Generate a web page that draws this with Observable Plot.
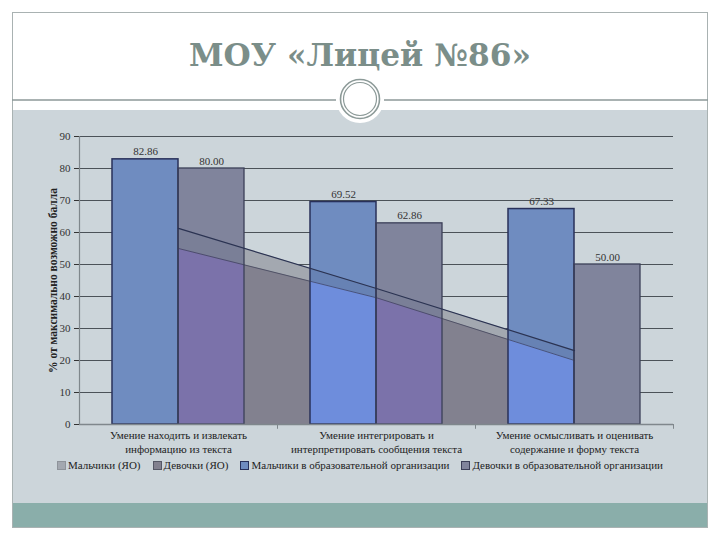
<!DOCTYPE html>
<html>
<head>
<meta charset="utf-8">
<script src="https://cdn.jsdelivr.net/npm/d3@7"></script>
<script src="https://cdn.jsdelivr.net/npm/@observablehq/plot@0.6"></script>
<style>
  html, body { margin: 0; padding: 0; background: #ffffff; }
  #page { position: relative; width: 720px; height: 540px; overflow: hidden; background: #ffffff; }
  #decor { position: absolute; left: 0; top: 0; }
  #chart { position: absolute; left: 0; top: 110px; }
  #legend { position: absolute; left: 0; top: 459px; width: 720px; display: flex; justify-content: center;
            gap: 12px; font-family: "Liberation Serif", "DejaVu Serif", serif; font-size: 11px; color: #222; }
  #legend .item { display: flex; align-items: center; gap: 2px; white-space: nowrap; }
  #legend .sw { width: 7px; height: 7px; border: 1px solid; display: inline-block; }
</style>
</head>
<body>
<div id="page">
  <svg id="decor" width="720" height="540">
    <rect x="12" y="110" width="696" height="393" fill="#ccd5da"></rect>
    <rect x="12" y="503" width="696" height="25" fill="#8aaeaa"></rect>
    <rect x="12.5" y="12.5" width="695" height="515" fill="none" stroke="#a9b2b2" stroke-width="1"></rect>
    <line x1="12" x2="336" y1="100" y2="100" stroke="#8c9898" stroke-width="1.5"></line>
    <line x1="384" x2="708" y1="100" y2="100" stroke="#8c9898" stroke-width="1.5"></line>
    <circle cx="360" cy="99" r="24" fill="#ffffff"></circle>
    <circle cx="360" cy="99" r="19.5" fill="none" stroke="#8c9a98" stroke-width="1.6"></circle>
    <circle cx="360" cy="99" r="16.5" fill="none" stroke="#8c9a98" stroke-width="1.2"></circle>
    <text x="360" y="66" text-anchor="middle" font-family="DejaVu Serif" font-weight="bold" font-size="31"
          fill="#7b8e89" textLength="342" lengthAdjust="spacingAndGlyphs">МОУ «Лицей №86»</text>
  </svg>
  <div id="chart"></div>
  <div id="legend"></div>
</div>
<script>
// ---- data ----
const categories = [
  "Умение находить и извлекать\nинформацию из текста",
  "Умение интегрировать и\nинтерпретировать сообщения текста",
  "Умение осмысливать и оценивать\nсодержание и форму текста"
];
const seriesNames = [
  "Мальчики (ЯО)",
  "Девочки (ЯО)",
  "Мальчики в образовательной организации",
  "Девочки в образовательной организации"
];
const boysYO  = [61.3, 42.5, 23.1];
const girlsYO = [55.0, 39.6, 20.0];
const boysOO  = [82.86, 69.52, 67.33];
const girlsOO = [80.00, 62.86, 50.00];
const yTicks = [0, 10, 20, 30, 40, 50, 60, 70, 80, 90];
const yLabel = "% от максимально возможно балла";

// ---- styling ----
const C = {
  boysYO: "#a3a8b0", girlsYO: "#82818f",
  boysOO: "#6f8cc0", girlsOO: "#80849c",
  boysOOStroke: "#28305a", girlsOOStroke: "#3b3f58",
  tintBoys: "#6e8ddc", tintGirls: "#7b72aa"
};
const FONT = '"Liberation Serif", "DejaVu Serif", serif';

const rows = categories.map((c, i) => ({
  i, c, boysYO: boysYO[i], girlsYO: girlsYO[i], boysOO: boysOO[i], girlsOO: girlsOO[i]
}));
const bw = 1 / 3;

const chart = Plot.plot({
  width: 720,
  height: 350,
  marginLeft: 79,
  marginRight: 47,
  marginTop: 26,
  marginBottom: 36,
  style: { background: "transparent", fontFamily: FONT, fontSize: "11px", color: "#333", overflow: "visible" },
  x: { type: "linear", domain: [-0.5, 2.5], axis: null },
  y: { domain: [0, 90], ticks: yTicks, tickSize: 5, tickPadding: 4, label: null, tickFormat: d => String(d) },
  marks: [
    Plot.ruleY(yTicks.filter(d => d > 0), { stroke: "#4b5258", strokeWidth: 1 }),
    // areas (behind)
    Plot.areaY(rows, { x: "i", y: "boysYO", fill: C.boysYO }),
    Plot.areaY(rows, { x: "i", y: "girlsYO", fill: C.girlsYO }),
    // bars
    Plot.rectY(rows, { x1: d => d.i - bw, x2: d => d.i, y: "boysOO", fill: C.boysOO, ariaDescription: "bars-boys" }),
    Plot.rectY(rows, { x1: d => d.i, x2: d => d.i + bw, y: "girlsOO", fill: C.girlsOO, ariaDescription: "bars-girls" }),
    // overlays clipped to bars
    Plot.areaY(rows, { x: "i", y: "boysYO", fill: "#2a3350", fillOpacity: 0.1, ariaDescription: "band-boys" }),
    Plot.areaY(rows, { x: "i", y: "boysYO", fill: "#2a3350", fillOpacity: 0.06, ariaDescription: "band-girls" }),
    Plot.areaY(rows, { x: "i", y: "girlsYO", fill: C.tintBoys, ariaDescription: "tint-boys" }),
    Plot.areaY(rows, { x: "i", y: "girlsYO", fill: C.tintGirls, ariaDescription: "tint-girls" }),
    // bar outlines
    Plot.rectY(rows, { x1: d => d.i - bw, x2: d => d.i, y: "boysOO", fill: "none", stroke: C.boysOOStroke, strokeWidth: 1.5 }),
    Plot.rectY(rows, { x1: d => d.i, x2: d => d.i + bw, y: "girlsOO", fill: "none", stroke: C.girlsOOStroke, strokeWidth: 1.3 }),
    // area lines
    Plot.lineY(rows, { x: "i", y: "boysYO", stroke: "#2b3352", strokeWidth: 1.2 }),
    Plot.lineY(rows, { x: "i", y: "girlsYO", stroke: "#3a3d55", strokeWidth: 0.9, strokeOpacity: 0.8 }),
    // axes lines
    Plot.ruleX([-0.5], { y1: 0, y2: 90, stroke: "#7f878c", strokeWidth: 1.2 }),
    Plot.ruleY([0], { stroke: "#7f878c", strokeWidth: 1.5 }),
    Plot.ruleX([0.5, 1.5, 2.5], { y1: 0, y2: -1.5, stroke: "#7f878c", strokeWidth: 1 }),
    // data labels
    Plot.text(rows, { x: d => d.i - bw / 2, y: "boysOO", text: d => d.boysOO.toFixed(2), dy: -4, lineAnchor: "bottom", fill: "#333", fontSize: 11, fontFamily: FONT }),
    Plot.text(rows, { x: d => d.i + bw / 2, y: "girlsOO", text: d => d.girlsOO.toFixed(2), dy: -4, lineAnchor: "bottom", fill: "#333", fontSize: 11, fontFamily: FONT }),
    // category labels
    Plot.text(rows, { x: "i", y: 0, text: "c", lineAnchor: "top", dy: 5, lineHeight: 1.27, fill: "#222", fontSize: 11, fontFamily: FONT }),
    // y label
    Plot.text([yLabel], { frameAnchor: "left", textAnchor: "middle", rotate: -90, dx: -26, fill: "#222", fontSize: 11.5, fontWeight: "bold", fontFamily: FONT })
  ]
});

// clip overlays to bar shapes
function parseTranslate(t) {
  if (!t) return [0, 0];
  const m = /translate\(\s*([-\d.e]+)[ ,]*([-\d.e]+)?\s*\)/.exec(t);
  return m ? [+m[1], +(m[2] || 0)] : [0, 0];
}
function findGroup(svg, key) {
  return svg.querySelector(`[aria-description="${key}"]`) || svg.querySelector(`[aria-label="${key}"]`);
}
function clipTo(svg, target, sources, id) {
  const ns = "http://www.w3.org/2000/svg";
  const tg = findGroup(svg, target);
  if (!tg) return;
  let defs = svg.querySelector("defs");
  if (!defs) { defs = document.createElementNS(ns, "defs"); svg.insertBefore(defs, svg.firstChild); }
  const cp = document.createElementNS(ns, "clipPath");
  cp.setAttribute("id", id);
  defs.appendChild(cp);
  const [tx, ty] = parseTranslate(tg.getAttribute("transform"));
  for (const s of sources) {
    const g = findGroup(svg, s);
    if (!g) continue;
    const [sx, sy] = parseTranslate(g.getAttribute("transform"));
    for (const r of g.querySelectorAll("rect")) {
      const c = r.cloneNode(false);
      c.setAttribute("transform", `translate(${sx - tx},${sy - ty})`);
      cp.appendChild(c);
    }
  }
  tg.setAttribute("clip-path", `url(#${id})`);
}
clipTo(chart, "band-boys", ["bars-boys"], "cbb");
clipTo(chart, "band-girls", ["bars-girls"], "cbg");
clipTo(chart, "tint-boys", ["bars-boys"], "ctb");
clipTo(chart, "tint-girls", ["bars-girls"], "ctg");

document.getElementById("chart").appendChild(chart);

// legend
const legendColors = [
  [C.boysYO, "#8e939a"], [C.girlsYO, "#555866"], [C.boysOO, C.boysOOStroke], [C.girlsOO, C.girlsOOStroke]
];
const legend = d3.select("#legend");
seriesNames.forEach((name, k) => {
  const it = legend.append("div").attr("class", "item");
  it.append("span").attr("class", "sw").style("background", legendColors[k][0]).style("border-color", legendColors[k][1]);
  it.append("span").text(name);
});
</script>
</body>
</html>
